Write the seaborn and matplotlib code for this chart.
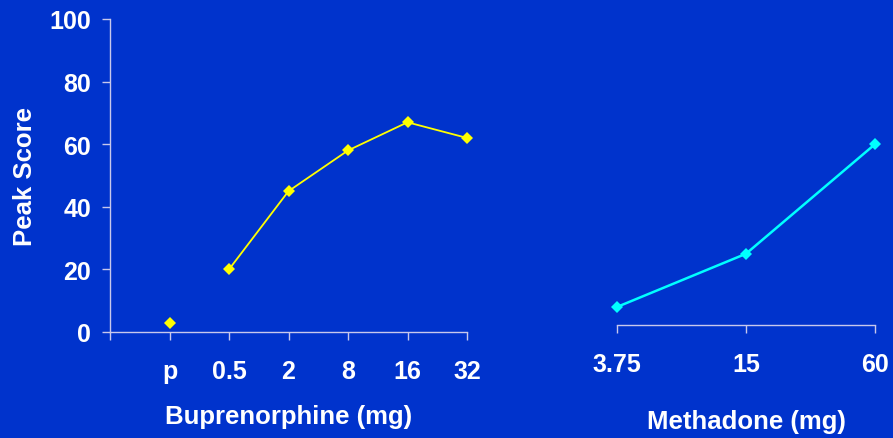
import matplotlib
matplotlib.use("Agg")
import matplotlib.pyplot as plt
import seaborn as sns
import pandas as pd

# ---- data ----
bup_labels = ["p", "0.5", "2", "8", "16", "32"]
bup_values = [3, 20, 45, 58, 67, 62]
met_labels = ["3.75", "15", "60"]
met_values = [8, 25, 60]
y_ticks = [0, 20, 40, 60, 80, 100]

BG = "#0033cc"
AX = "#c8c8ec"
YELLOW = "#ffff00"
CYAN = "#00ffff"

sns.set_theme(style="white")
plt.rcParams["font.family"] = ["Liberation Sans", "DejaVu Sans"]
plt.rcParams["font.weight"] = "bold"

fig = plt.figure(figsize=(8.93, 4.39), dpi=100)
fig.patch.set_facecolor(BG)

W, H = 893, 439
def rect(x0, x1, ytop, ybot):
    return [x0 / W, 1 - ybot / H, (x1 - x0) / W, (ybot - ytop) / H]

ax1 = fig.add_axes(rect(110, 467, 20, 333))
ax2 = fig.add_axes(rect(617, 875, 20, 333))

TS = 18   # tick label size
LS = 18.5 # axis label size

# Buprenorphine
bup_df = pd.DataFrame({"pos": list(range(1, len(bup_labels) + 1)),
                       "label": bup_labels, "score": bup_values})
dose_df = bup_df[bup_df["label"] != "p"]
plac_df = bup_df[bup_df["label"] == "p"]
sns.lineplot(data=dose_df, x="pos", y="score", ax=ax1, color=YELLOW,
             linewidth=1.3, marker="D", markersize=6.3, markeredgewidth=0,
             clip_on=False)
sns.lineplot(data=plac_df, x="pos", y="score", ax=ax1, color=YELLOW,
             linewidth=0, marker="D", markersize=6.3, markeredgewidth=0,
             clip_on=False)

# Methadone
met_df = pd.DataFrame({"pos": list(range(len(met_labels))),
                       "label": met_labels, "score": met_values})
sns.lineplot(data=met_df, x="pos", y="score", ax=ax2, color=CYAN,
             linewidth=1.8, marker="D", markersize=6.3, markeredgewidth=0,
             clip_on=False)

for ax in (ax1, ax2):
    ax.set_facecolor(BG)
    ax.set_ylim(0, 100)
    for s in ("top", "right"):
        ax.spines[s].set_visible(False)
    for s in ("left", "bottom"):
        ax.spines[s].set_color(AX)
        ax.spines[s].set_linewidth(1.0)
    ax.tick_params(colors=AX, labelcolor="white", length=5.5, width=1.0,
                   direction="out", labelsize=TS, bottom=True, left=True)

ax1.set_xlim(0, len(bup_labels))
ax1.set_xticks(range(0, len(bup_labels) + 1))
ax1.set_xticklabels([""] + bup_labels, fontweight="bold", fontsize=TS,
                    color="white")
ax1.set_yticks(y_ticks)
ax1.set_yticklabels([str(v) for v in y_ticks], fontweight="bold",
                    fontsize=TS, color="white")
ax1.tick_params(axis="x", pad=14)
ax1.tick_params(axis="y", pad=8)
ax1.set_xlabel("Buprenorphine (mg)", color="white", fontsize=LS,
               fontweight="bold")
ax1.set_ylabel("Peak Score", color="white", fontsize=LS, fontweight="bold")
ax1.xaxis.set_label_coords(0.5, (333 - 405) / 313)
ax1.yaxis.set_label_coords((37 - 110) / 357, 0.5)

ax2.set_xlim(0, len(met_labels) - 1)
ax2.set_xticks(range(len(met_labels)))
ax2.set_xticklabels(met_labels, fontweight="bold", fontsize=TS,
                    color="white")
ax2.spines["left"].set_visible(False)
ax2.tick_params(axis="y", left=False, labelleft=False)
ax2.set_ylabel("")
ax2.spines["bottom"].set_position(("data", 2.2))
ax2.tick_params(axis="x", pad=14)
ax2.set_xlabel("Methadone (mg)", color="white", fontsize=LS,
               fontweight="bold")
ax2.xaxis.set_label_coords(0.5, (333 - 410) / 313)

fig.savefig("out.png", dpi=100, facecolor=BG)
